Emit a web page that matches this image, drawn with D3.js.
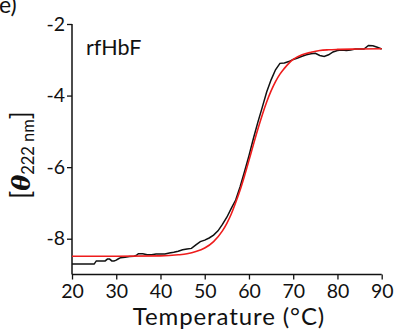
<!DOCTYPE html>
<html><head><meta charset="utf-8">
<script src="https://cdn.jsdelivr.net/npm/d3@7"></script>
<style>body{margin:0;background:#fff}svg{display:block}text{font-family:Lato,"Open Sans",sans-serif;fill:#111}</style>
</head><body><div id="chart"></div>
<script>
const xTicks = [20,30,40,50,60,70,80,90];
const yTicks = [-2,-4,-6,-8];
const dataT = [20,21,22,23,24,25,25.5,26,27,27.5,28,28.5,29,29.5,30,30.5,31,32,33,34,34.5,35,36,37,38,39,40,41,42,43,44,45,46,47,48,49,50,51,52,53,54,55,56,57,58,59,60,61,62,63,64,65,66,67,68,69,70,71,72,73,74,75,76,77,78,79,80,81,82,83,84,85,86,87,88,89,90];
const dataV = [-8.71,-8.71,-8.71,-8.71,-8.71,-8.71,-8.62,-8.62,-8.62,-8.62,-8.57,-8.57,-8.62,-8.62,-8.60,-8.56,-8.53,-8.52,-8.50,-8.49,-8.47,-8.42,-8.42,-8.45,-8.45,-8.43,-8.43,-8.43,-8.40,-8.38,-8.35,-8.31,-8.29,-8.27,-8.17,-8.08,-8.04,-7.98,-7.90,-7.78,-7.60,-7.40,-7.15,-6.92,-6.55,-6.12,-5.68,-5.20,-4.75,-4.33,-3.90,-3.56,-3.28,-3.10,-3.09,-3.05,-2.99,-2.95,-2.90,-2.86,-2.83,-2.82,-2.88,-2.91,-2.86,-2.78,-2.74,-2.73,-2.74,-2.73,-2.70,-2.70,-2.70,-2.60,-2.61,-2.65,-2.70];
const fitT = [20,30,40,44,46,48,50,52,54,55,56,57,58,59,60,61,62,63,64,65,66,67,68,69,70,72,74,76,78,80,85,90];
const fitV = [-8.49,-8.49,-8.48,-8.45,-8.42,-8.36,-8.26,-8.08,-7.78,-7.57,-7.31,-6.99,-6.64,-6.24,-5.81,-5.37,-4.94,-4.54,-4.18,-3.87,-3.61,-3.40,-3.24,-3.10,-2.99,-2.86,-2.79,-2.74,-2.72,-2.71,-2.70,-2.69];

const W = 398, H = 331;
const svg = d3.select("#chart").append("svg").attr("width", W).attr("height", H);
const x = d3.scaleLinear().domain([20,90]).range([72,381.7]);
const y = d3.scaleLinear().domain([-9,-2]).range([274.5,24]);

const gx = svg.append("g").attr("transform", `translate(0,${y(-9)})`);
gx.call(d3.axisBottom(x).tickValues(d3.range(25,90,10)).tickSize(3.5).tickFormat(""));
gx.call(d3.axisBottom(x).tickValues(xTicks).tickSize(5).tickPadding(5).tickFormat(d3.format("d")));
const gy = svg.append("g").attr("transform", `translate(${x(20)},0)`);
gy.call(d3.axisLeft(y).tickValues([-3,-5,-7]).tickSize(3.5).tickFormat(""));
gy.call(d3.axisLeft(y).tickValues(yTicks).tickSize(5).tickPadding(2).tickFormat(d => d3.format("d")(d).replace("−","-")));
svg.selectAll(".domain").attr("stroke","#111").attr("stroke-width",1.5);
svg.selectAll(".tick line").attr("stroke","#111").attr("stroke-width",1.3);
svg.selectAll(".tick text").attr("font-size",19.5).attr("font-family",'Lato,"Open Sans",sans-serif').attr("fill","#111");
gx.selectAll(".domain").attr("d", `M${x(20)},0H${x(90)}`);
gy.selectAll(".domain").attr("d", `M0,${y(-2)}V${y(-9)}`);

const line = d3.line().x(d => x(d[0])).y(d => y(d[1]));
svg.append("path").datum(dataT.map((t,i)=>[t,dataV[i]]))
  .attr("d", line).attr("fill","none").attr("stroke","#111").attr("stroke-width",1.5);
svg.append("path").datum(fitT.map((t,i)=>[t,fitV[i]]))
  .attr("d", line.curve(d3.curveMonotoneX)).attr("fill","none").attr("stroke","#ee1c1c").attr("stroke-width",1.6);

svg.append("text").attr("x",-1).attr("y",13).attr("font-size",23).text("e)");
svg.append("text").attr("x",86).attr("y",55).attr("font-size",21.5).text("rfHbF");
svg.append("text").attr("x",229).attr("y",325).attr("text-anchor","middle").attr("font-size",24).attr("letter-spacing",0.9).text("Temperature (°C)");

const yl = svg.append("text").attr("transform","translate(30,155) rotate(-90)").attr("text-anchor","middle").attr("font-size",26);
yl.append("tspan").text("[");
yl.append("tspan").attr("font-weight","bold").attr("font-style","italic").attr("font-family","'DejaVu Serif',serif").attr("font-size",24).text("θ");
yl.append("tspan").attr("font-size",16.5).attr("dy",4).text("222 nm");
yl.append("tspan").attr("dy",-4).text("]");
</script></body></html>
